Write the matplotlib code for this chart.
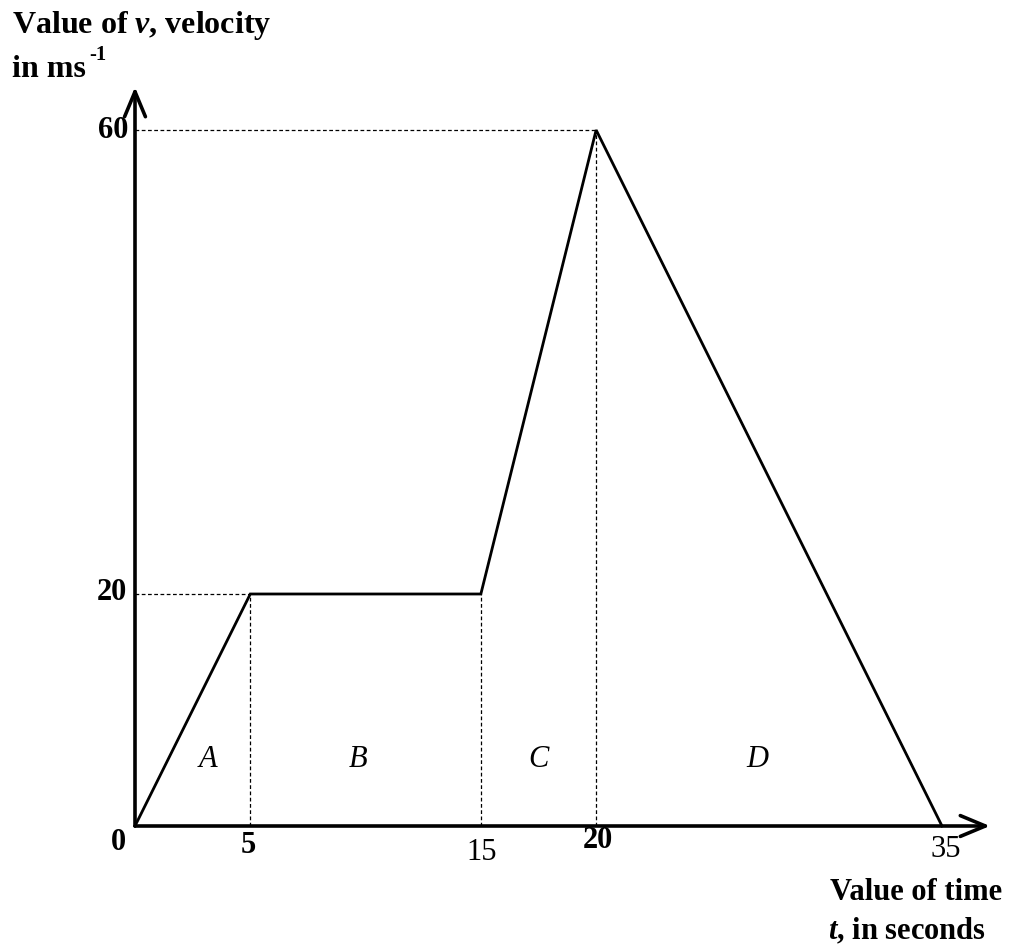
import matplotlib
matplotlib.use("Agg")
import matplotlib.pyplot as plt

plt.rcParams['font.family'] = ['Liberation Serif', 'DejaVu Serif']
plt.rcParams['mathtext.fontset'] = 'custom'
plt.rcParams['mathtext.rm'] = 'Liberation Serif:bold'
plt.rcParams['mathtext.it'] = 'Liberation Serif:italic:bold'
plt.rcParams['mathtext.bf'] = 'Liberation Serif:bold'

# Data
times = [0, 5, 15, 20, 35]
velocities = [0, 20, 20, 60, 0]
region_labels = ['A', 'B', 'C', 'D']
region_x = [3.17, 9.67, 17.48, 27.0]
region_y = 5.7
x_ticks = [0, 5, 15, 20, 35]
y_ticks = [20, 60]

W, H = 1018, 946
fig = plt.figure(figsize=(W / 100, H / 100), dpi=100)
ax = fig.add_axes([0, 0, 1, 1])
# pixel mapping: x=0 -> 135px, x=35 -> 942px ; y=0 -> 826px, y=60 -> 130px (from top)
sx = (942 - 135) / 35.0
sy = (826 - 130) / 60.0
ax.set_xlim(-135 / sx, (W - 135) / sx)
ax.set_ylim(-(H - 826) / sy, 826 / sy)
ax.axis('off')

# guide dashed lines
dash = dict(color='black', lw=0.9, ls=(0, (3, 2)))
ax.plot([0, times[3]], [velocities[3], velocities[3]], **dash)
ax.plot([0, times[1]], [velocities[1], velocities[1]], **dash)
for t, v in zip(times[1:4], velocities[1:4]):
    ax.plot([t, t], [0, v], **dash)

# main graph
ax.plot(times, velocities, color='black', lw=2.0, solid_joinstyle='miter')

# axes with arrows
x_end = (990 - 135) / sx
y_end = (826 - 87) / sy
astyle = '->,head_length=1.8,head_width=0.75'
ax.annotate('', xy=(x_end, 0), xytext=(0, 0),
            arrowprops=dict(arrowstyle=astyle, lw=2.6, color='black', shrinkA=0, shrinkB=0))
ax.annotate('', xy=(0, y_end), xytext=(0, 0),
            arrowprops=dict(arrowstyle=astyle, lw=2.6, color='black', shrinkA=0, shrinkB=0))

def px(x, y):
    return ((x - 135) / sx, (826 - y) / sy)

# tick labels
tick_pos = {0: (118, 842, 'bold'), 5: (248, 845, 'bold'), 15: (482, 852, 'normal'),
            20: (598, 840, 'bold'), 35: (946, 849, 'normal')}
for t in x_ticks:
    xp, yp, w = tick_pos[t]
    ax.text(*px(xp, yp), str(t), ha='center', va='center', fontsize=22, fontweight=w)
ytick_pos = {60: (128, 130), 20: (127, 592)}
for v in y_ticks:
    xp, yp = ytick_pos[v]
    ax.text(*px(xp, yp), str(v), ha='right', va='center', fontsize=22, fontweight='bold')

# region labels
for lab, x in zip(region_labels, region_x):
    ax.text(x, region_y, lab, ha='center', va='center', fontsize=22, style='italic')

# axis titles
ax.text(12 / W, 1 - 33 / H, r'Value of $\mathit{v}$, velocity', transform=ax.transAxes,
        ha='left', va='baseline', fontsize=23, fontweight='bold')
ax.text(12 / W, 1 - 77 / H, 'in ms', transform=ax.transAxes,
        ha='left', va='baseline', fontsize=23, fontweight='bold')
ax.text(89 / W, 1 - 60 / H, '-1', transform=ax.transAxes,
        ha='left', va='baseline', fontsize=15, fontweight='bold')

ax.text(830 / W, 1 - 900 / H, 'Value of time', transform=ax.transAxes,
        ha='left', va='baseline', fontsize=22, fontweight='bold')
ax.text(828 / W, 1 - 939 / H, r'$\mathit{t}$, in seconds', transform=ax.transAxes,
        ha='left', va='baseline', fontsize=22, fontweight='bold')

fig.savefig('out.png', dpi=100)
